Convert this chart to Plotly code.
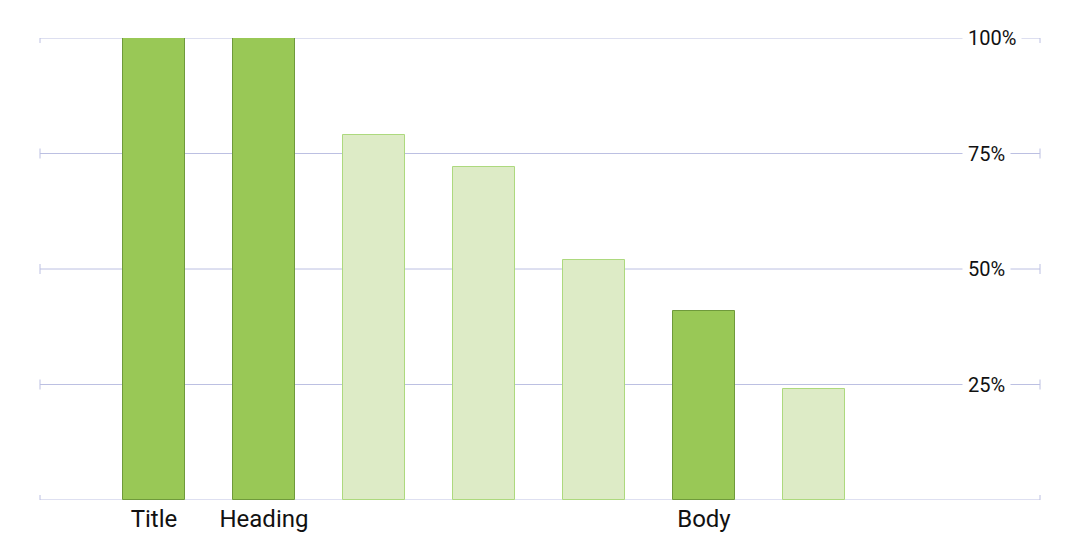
import plotly.graph_objects as go

# Data
bar_labels = ["Title", "Heading", "", "", "", "Body", ""]
bar_values = [100, 100, 79, 72, 52, 41, 24]
bar_highlight = [True, True, False, False, False, True, False]
y_ticks = [25, 50, 75, 100]
y_tick_labels = ["25%", "50%", "75%", "100%"]

DARK_FILL, DARK_LINE = "#99C856", "#6F9A3B"
LIGHT_FILL, LIGHT_LINE = "#DDEBC6", "#ADD97E"
GRID = "#BCC0E2"
FONT = "Roboto"

xs = list(range(len(bar_values)))
fig = go.Figure()
fig.add_trace(go.Bar(
    x=xs, y=bar_values, width=0.564,
    marker=dict(
        color=[DARK_FILL if h else LIGHT_FILL for h in bar_highlight],
        line=dict(color=[DARK_LINE if h else LIGHT_LINE for h in bar_highlight], width=1),
    ),
    hoverinfo="skip",
))

shapes = []
annotations = []
for v in [0] + y_ticks:
    shapes.append(dict(type="line", xref="paper", yref="y", x0=0, x1=1, y0=v, y1=v,
                       line=dict(color=GRID, width=1), layer="below"))
    for xp in (0, 1):
        shapes.append(dict(type="line", xref="paper", yref="y", x0=xp, x1=xp,
                           ysizemode="pixel", yanchor=v, y0=-5, y1=5,
                           line=dict(color=GRID, width=1), layer="below"))
for v, t in zip(y_ticks, y_tick_labels):
    annotations.append(dict(x=0.922, xref="paper", y=v, yref="y", text=t, showarrow=False,
                            xanchor="left", yanchor="middle", bgcolor="white", borderpad=5,
                            font=dict(family=FONT, size=20, color="#111111")))

tick_idx = [i for i, l in enumerate(bar_labels) if l]
fig.update_layout(
    width=1080, height=540,
    margin=dict(l=40, r=40, t=38, b=40, autoexpand=False),
    plot_bgcolor="white", paper_bgcolor="white",
    showlegend=False,
    bargap=0,
    shapes=shapes, annotations=annotations,
    xaxis=dict(range=[-1.036, 8.055], tickvals=tick_idx, ticktext=[bar_labels[i] for i in tick_idx],
               showgrid=False, zeroline=False, showline=False, ticks="", ticklabelstandoff=2,
               automargin=False,
               tickfont=dict(family=FONT, size=24, color="#111111"), fixedrange=True),
    yaxis=dict(range=[0, 100], showgrid=False, zeroline=False, showline=False, automargin=False,
               showticklabels=False, ticks="", fixedrange=True),
)
fig.write_html("out.html", config={"displayModeBar": False},
               post_script="document.body.style.margin='0';document.body.style.overflow='hidden';")
